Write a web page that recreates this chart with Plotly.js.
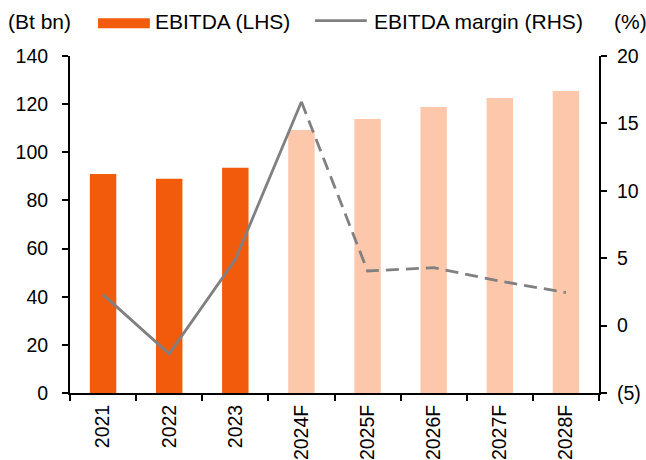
<!DOCTYPE html>
<html>
<head>
<meta charset="utf-8">
<script src="https://cdn.plot.ly/plotly-3.0.1.min.js"></script>
<style>
  html, body { margin: 0; padding: 0; background: #fff; }
  #chart { width: 646px; height: 460px; }
</style>
</head>
<body>
<div id="chart"></div>
<script>
// EBITDA (Bt bn) and EBITDA margin (%)
const years = ['2021', '2022', '2023', '2024F', '2025F', '2026F', '2027F', '2028F'];
const ebitda = [91.0, 89.0, 93.6, 109.3, 113.8, 118.8, 122.6, 125.5];
const barColors = ['#F25A0C', '#F25A0C', '#F25A0C', '#FDC7AC', '#FDC7AC', '#FDC7AC', '#FDC7AC', '#FDC7AC'];
const marginActual = [2.3, -2.1, 4.9, 16.6];
const marginForecast = [16.6, 4.05, 4.3, 3.3, 2.45];
const leftTicks = [0, 20, 40, 60, 80, 100, 120, 140];
const rightTicks = [-5, 0, 5, 10, 15, 20];
const rightTickText = ['(5)', '0', '5', '10', '15', '20'];

const family = 'Liberation Sans, Arial, sans-serif';
const tickFont = { family: family, size: 19.5, color: '#000' };
const legendFont = { family: family, size: 21, color: '#000' };
const grey = '#808080';

const traces = [
    {
        x: years, y: ebitda, type: 'bar', name: 'EBITDA (LHS)',
        marker: { color: barColors }, width: 0.4,
        hoverinfo: 'skip'
    },
    {
        x: years.slice(0, 4), y: marginActual, type: 'scatter', mode: 'lines',
        yaxis: 'y2', name: 'EBITDA margin (RHS)',
        line: { color: grey, width: 2.8 }
    },
    {
        x: years.slice(3), y: marginForecast, type: 'scatter', mode: 'lines',
        yaxis: 'y2', showlegend: false,
        line: { color: grey, width: 2.8, dash: '13px,7px' }
    }
];

const axisLine = { showline: true, linecolor: '#000', linewidth: 2, ticks: 'outside', tickcolor: '#000', tickwidth: 2, ticklen: 6, showgrid: false, zeroline: false };

// legend row, drawn by hand so the keys match the original
const legY = 1.101;

const layout = {
    width: 646, height: 460,
    margin: { l: 70, r: 47, t: 56, b: 67 },
    paper_bgcolor: '#fff', plot_bgcolor: '#fff',
    font: tickFont,
    showlegend: false,
    xaxis: {
        ...axisLine,
        type: 'category', tickson: 'boundaries', tickangle: -90,
        tickfont: tickFont, ticklabelstandoff: 2
    },
    yaxis: {
        ...axisLine,
        range: [0, 140], tickvals: leftTicks, ticktext: leftTicks.map(String),
        tickfont: tickFont, ticklabelstandoff: 10
    },
    yaxis2: {
        ...axisLine,
        overlaying: 'y', side: 'right',
        range: [-5, 20], tickvals: rightTicks, ticktext: rightTickText,
        tickfont: tickFont, ticklabelstandoff: 6
    },
    shapes: [
        { type: 'rect', xref: 'paper', yref: 'paper', x0: 0.053, x1: 0.151, y0: 1.082, y1: 1.112,
          fillcolor: '#F25A0C', line: { width: 0 } },
        { type: 'line', xref: 'paper', yref: 'paper', x0: 0.463, x1: 0.561, y0: 1.105, y1: 1.105,
          line: { color: grey, width: 2.8 } }
    ],
    annotations: [
        { text: '(Bt bn)', xref: 'paper', yref: 'paper', x: -0.121, y: legY, xanchor: 'left', yanchor: 'middle', showarrow: false, font: legendFont },
        { text: 'EBITDA (LHS)', xref: 'paper', yref: 'paper', x: 0.157, y: legY, xanchor: 'left', yanchor: 'middle', showarrow: false, font: legendFont },
        { text: 'EBITDA margin (RHS)', xref: 'paper', yref: 'paper', x: 0.571, y: legY, xanchor: 'left', yanchor: 'middle', showarrow: false, font: legendFont },
        { text: '(%)', xref: 'paper', yref: 'paper', x: 1.024, y: legY, xanchor: 'left', yanchor: 'middle', showarrow: false, font: legendFont }
    ]
};

Plotly.newPlot('chart', traces, layout, { displayModeBar: false, staticPlot: true });
</script>
</body>
</html>
